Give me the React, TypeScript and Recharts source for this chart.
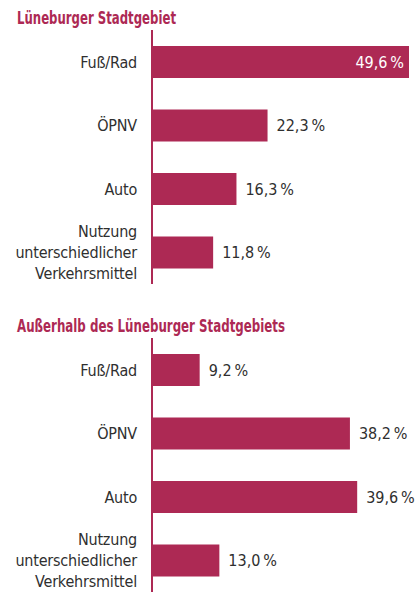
import { BarChart, Bar, XAxis, YAxis, LabelList } from 'recharts';

const categories = ['Fuß/Rad', 'ÖPNV', 'Auto', 'Nutzung unterschiedlicher Verkehrsmittel'];
const stadtValues = [49.6, 22.3, 16.3, 11.8];
const aussenValues = [9.2, 38.2, 39.6, 13.0];
const titles = ['Lüneburger Stadtgebiet', 'Außerhalb des Lüneburger Stadtgebiets'];

const CRIMSON = '#ad2954';
const TEXT = '#2f2f2f';
const FONT = "'DejaVu Sans Condensed', 'DejaVu Sans', sans-serif";

const tickLines: Record<string, string[]> = {
  'Nutzung unterschiedlicher Verkehrsmittel': ['Nutzung', 'unterschiedlicher', 'Verkehrsmittel'],
};

const fmt = (v: number) => `${v.toFixed(1).replace('.', ',')}\u2009%`;

const CategoryTick = (props: any) => {
  const { x, y, payload } = props;
  const lines = tickLines[payload.value] || [payload.value];
  const start = -((lines.length - 1) * 21) / 2;
  return (
    <text x={x - 7} y={y} textAnchor="end" fill={TEXT} fontSize={16} fontFamily={FONT} letterSpacing={-0.2}>
      {lines.map((l, i) => (
        <tspan key={i} x={x - 7} y={y + start + i * 21} dy="0.36em">
          {l}
        </tspan>
      ))}
    </text>
  );
};

const ValueLabel = (props: any) => {
  const { x, y, width, height, value } = props;
  const inside = value > 45;
  return (
    <text
      x={inside ? x + width - 5 : x + width + 9}
      y={y + height / 2}
      dy="0.36em"
      textAnchor={inside ? 'end' : 'start'}
      fill={inside ? '#ffffff' : TEXT}
      fontSize={16}
      fontFamily={FONT}
    >
      {fmt(value)}
    </text>
  );
};

function Panel({ values, top, height, marginTop }: { values: number[]; top: number; height: number; marginTop: number }) {
  const data = categories.map((c, i) => ({ name: c, value: values[i] }));
  return (
    <div style={{ position: 'absolute', left: 0, top }}>
      <BarChart
        width={417}
        height={height}
        data={data}
        layout="vertical"
        margin={{ top: marginTop, right: 8, bottom: 0, left: 0 }}
        barCategoryGap={0}
      >
        <XAxis type="number" domain={[0, 49.6]} hide />
        <YAxis
          type="category"
          dataKey="name"
          width={152}
          axisLine={{ stroke: CRIMSON, strokeWidth: 2 }}
          tickLine={false}
          tick={<CategoryTick />}
          interval={0}
        />
        <Bar dataKey="value" fill={CRIMSON} barSize={32} isAnimationActive={false}>
          <LabelList dataKey="value" content={<ValueLabel />} />
        </Bar>
      </BarChart>
    </div>
  );
}

export default function App() {
  return (
    <div style={{ position: 'fixed', left: 0, top: 0, width: 417, height: 592, background: '#fff', overflow: 'hidden' }}>
      <Panel values={stadtValues} top={0} height={284} marginTop={30} />
      <Panel values={aussenValues} top={300} height={292} marginTop={38} />
      <svg width={417} height={592} style={{ position: 'absolute', left: 0, top: 0, pointerEvents: 'none' }}>
        <text x={17} y={24} fill={CRIMSON} fontFamily={FONT} fontWeight="bold" fontSize={17} textLength={159} lengthAdjust="spacingAndGlyphs">
          {titles[0]}
        </text>
        <text x={17} y={332} fill={CRIMSON} fontFamily={FONT} fontWeight="bold" fontSize={17} textLength={268} lengthAdjust="spacingAndGlyphs">
          {titles[1]}
        </text>
      </svg>
    </div>
  );
}
